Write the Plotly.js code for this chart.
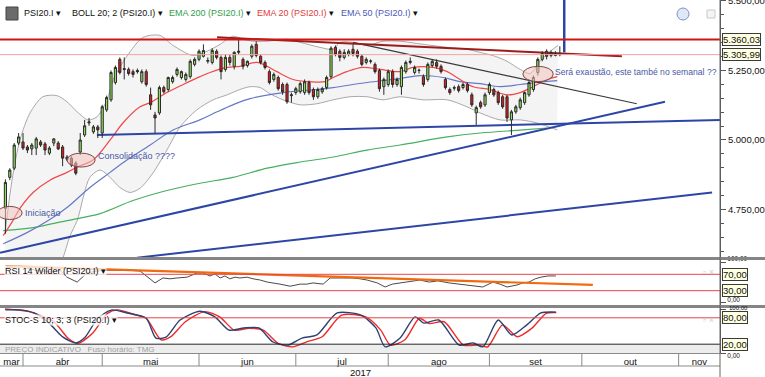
<!DOCTYPE html>
<html><head><meta charset="utf-8">
<script src="https://cdn.plot.ly/plotly-3.0.1.min.js"></script>
<style>html,body{margin:0;padding:0;background:#fff;}#chart{width:765px;height:377px;}</style>
</head><body><div id="chart"></div>
<script>
// ---------- PSI20.I daily candles (late Mar – Sep 2017) ----------
const open  = [4755,4866,4899,4989,4993,4975,4968,4971,4993,4986, 4953,4989,4989,4975,4931,4935,4917,4957,5018,5061,
  5029,5047,5025,5108,5144,5206,5289,5256,5253,5245, 5249,5209,5245,5162,5090,5097,5188,5181,5209,5235,
  5224,5217,5227,5271,5289,5300,5282,5278,5318,5296, 5253,5296,5264,5314,5289,5267,5300,5343,5300,5278,
  5245,5217,5224,5199,5199,5159,5170,5173,5170,5206, 5181,5155,5173,5188,5227,5332,5318,5296,5307,5325,
  5318,5300,5278,5282,5271,5249,5191,5199,5245,5199, 5191,5245,5278,5242,5249,5227,5217,5267,5278,5264,
  5217,5181,5188,5191,5188,5199,5162,5097,5134,5126, 5170,5181,5170,5155,5155,5072,5101,5116,5134,5162,
  5181,5242,5289,5318,5303,5303,5307];
const high  = [4859,4899,4989,5025,5025,4982,4989,5011,5000,4993, 4978,5007,4996,4982,4946,4942,4924,5025,5072,5079,
  5054,5054,5126,5159,5249,5267,5296,5296,5260,5253, 5256,5253,5253,5188,5101,5195,5195,5227,5231,5260,
  5249,5242,5289,5296,5325,5343,5296,5329,5325,5303, 5307,5307,5318,5361,5296,5285,5343,5354,5307,5285,
  5253,5242,5231,5206,5206,5170,5191,5209,5217,5213, 5188,5188,5191,5231,5336,5339,5325,5325,5325,5343,
  5325,5307,5296,5289,5278,5256,5224,5253,5253,5224, 5267,5285,5296,5267,5256,5235,5278,5289,5289,5271,
  5224,5188,5195,5199,5206,5206,5170,5123,5141,5170, 5206,5188,5177,5162,5162,5108,5126,5152,5173,5213,
  5231,5296,5318,5325,5321,5318,5336];
const low   = [4664,4856,4892,4982,4964,4953,4946,4946,4975,4946, 4946,4978,4964,4906,4924,4903,4874,4946,5011,5051,
  5022,5007,5007,5101,5137,5199,5235,5217,5231,5224, 5238,5202,5191,5108,5025,5090,5166,5173,5202,5227,
  5217,5209,5220,5264,5282,5296,5274,5271,5289,5217, 5245,5267,5253,5307,5253,5260,5292,5296,5271,5253,
  5199,5209,5177,5162,5130,5134,5162,5166,5162,5162, 5144,5148,5166,5181,5220,5300,5282,5289,5300,5300,
  5292,5264,5271,5274,5238,5173,5162,5191,5188,5191, 5162,5238,5271,5235,5238,5191,5209,5260,5256,5238,
  5181,5162,5177,5170,5181,5170,5119,5054,5112,5119, 5162,5155,5126,5112,5065,5018,5094,5108,5126,5155,
  5173,5231,5282,5289,5296,5300,5300];
const close = [4848,4892,4982,5011,4971,4964,4982,5004,4982,4964, 4971,5004,4968,4935,4939,4910,4881,5000,5051,5065,
  5047,5036,5119,5152,5242,5260,5242,5253,5238,5235, 5245,5245,5199,5126,5079,5188,5173,5224,5224,5253,
  5245,5235,5282,5289,5318,5321,5285,5321,5296,5245, 5296,5278,5314,5318,5264,5282,5336,5303,5278,5260,
  5206,5235,5184,5173,5137,5162,5184,5202,5209,5170, 5155,5181,5184,5224,5329,5307,5296,5314,5318,5310,
  5300,5271,5289,5283,5245,5184,5217,5245,5199,5217, 5260,5278,5282,5260,5250,5199,5271,5282,5264,5245,
  5188,5170,5186,5177,5199,5177,5126,5116,5119,5162, 5199,5162,5134,5119,5079,5101,5119,5144,5170,5206,
  5224,5289,5310,5300,5314,5310,5305.99];
// trading-session index (0 = first session of April)
const day = open.map((_, i) => i - 4);

// month axis
const monthNames = ['mar','abr','mai','jun','jul','ago','set','out','nov'];
const monthStart = [0, 18, 40, 62, 83, 106, 127, 149];   // session index where each month begins
const axisStart = -5.23, axisEnd = 158.4;

// Bollinger 20;2
const bollUpDay = [-4.1,-2.5,-0.7,1.6,4.5,7.7,10,12.3,14.8,16.8,19.1,20.5,23.6,27.3,31.1,34.1,38.6,41.8,44.8,47.7,50,52.3,55.5,60,63,67.5,70.5,72,75,78.2,81.8,85.7,90.9,96.4,100.9,103.9,107.3,110,113,115.2,117.5,119.8,121.6];
const bollUpVal = [4664,4856,5000,5097,5155,5159,5137,5101,5072,5083,5144,5217,5300,5368,5375,5339,5303,5318,5343,5372,5361,5354,5354,5361,5350,5332,5325,5350,5350,5339,5354,5354,5343,5332,5325,5314,5300,5282,5253,5238,5282,5318,5339];
const bollLoDay = [-4.1,2.7,9.1,10.7,12.3,15.2,17.5,19.8,22,24.3,26.6,29.5,32.7,35.7,39.5,43.2,46.4,49.3,51.6,53.9,56.1,59.1,63,66.8,70.5,74.3,78.2,81.8,85.7,90.9,96.4,100.9,103.9,108.4,113,116.8,121.4];
const bollLoVal = [3989,4314,4578,4657,4711,4866,4892,4866,4830,4812,4827,4881,4964,5047,5108,5144,5162,5181,5191,5188,5166,5144,5126,5130,5144,5155,5155,5144,5155,5144,5144,5119,5097,5072,5072,5061,5036];

// EMAs
const ema20Day = [-4.5,-2.3,-0.7,2.3,6.1,10,12.3,15.9,19.8,22.7,26.6,28.9,32.7,36.4,40.2,42.5,46.4,49.3,53.2,55.5,57.7,61.4,65.2,68.6,70.5,73.6,77.3,81.1,85.7,88.6,93.2,96.4,98.6,102.3,106.1,110,113,115.9,119.1,121.4];
const ema20Val = [4657,4711,4755,4812,4856,4884,4903,4928,5000,5061,5119,5134,5170,5199,5227,5242,5260,5264,5278,5264,5245,5217,5209,5209,5224,5245,5260,5253,5245,5260,5260,5245,5224,5191,5181,5162,5170,5191,5217,5227];
const ema50Day = [-4.5,0.9,6.1,10,15.2,19.8,23.6,28.9,34.1,40.2,44.1,47.7,51.6,59.1,66.8,70.5,78.2,85.7,90.2,95.5,99.3,103.9,108.4,113,116.8,121.4];
const ema50Val = [4628,4668,4715,4758,4830,4884,4928,4982,5036,5072,5101,5126,5148,5170,5181,5188,5206,5220,5231,5224,5209,5202,5191,5199,5206,5213];
const ema200Day = [-4.5,2.3,10,17.5,25,32.7,40.2,47.7,55.5,63,70.5,78.2,85.7,96.4,103.9,113.6,119.1];
const ema200Val = [4675,4686,4711,4736,4783,4819,4845,4866,4899,4921,4939,4964,4982,5011,5025,5036,5043];

// price levels: resistance and last price
const priceLevels = [5360.03, 5305.99];

// hand-drawn trend lines (session index / price)
const resistDownDay = [44.1, 136.1],  resistDownVal = [5368, 5300];
const channelDay    = [75, 139.5],    channelVal    = [5350, 5130];
const supportFlatDay= [16.8, 158.4],  supportFlatVal= [5018, 5072];
const supportUpDay  = [-5.2, 145.9],  supportUpVal  = [4596, 5137];
const supportLowDay = [25.9, 156.6],  supportLowVal = [4578, 4812];
const markerDay     = [123, 123],     markerVal     = [5314, 5650];

// RSI 14 Wilder
const rsiDay = [-4,-0.7,2.7,6.1,8.4,10,12.3,14.5,16.8,19.1,21.4,23.6,26.6,28.4,30,31.8,33.4,35,37.3,39.5,40.9,42.5,43.6,44.8,45.9,47,48.2,49.3,50.9,52.3,53.9,55.5,56.8,58.4,60.7,63,64.5,65.9,68.2,69.8,72,75,76.6,78.2,80.5,82.3,83.9,85.7,88,90.2,92.3,94.3,96.8,98.9,101.1,103,104.5,106.8,108.4,110,111.1,112.3,113.6,115,116.4,117.7,119.3,121.1];
const rsiVal = [85,90,80,76,80,63,51,73,78,80,80,80,78,63,49,61,59,61,63,73,73,66,71,61,66,59,63,61,63,59,56,51,49,46,41,46,46,49,46,61,61,61,59,56,49,39,46,49,54,56,51,54,49,46,44,41,39,51,46,39,41,44,49,51,59,63,66,66];
const rsiLevels = [70, 30];
const rsiTrendDay = [-4, 129.5], rsiTrendVal = [90, 44];

// Stochastic slow 10;3;3
const kDay = [-4,-0.7,2.5,5.9,9.1,12,14.1,17,20.2,23.6,28,30.2,32.5,35.7,40.2,43.6,46.8,50.2,53.6,56.8,60.2,63.4,66.8,71.4,76.8,80.2,82.3,85.7,89.1,91.1,94.5,99.1,102.3,104.5,108,111.1,114.5,117.7,121.1];
const kVal = [98,98,91,68,36,23,36,79,98,91,79,34,36,75,95,82,52,57,57,25,18,34,41,91,86,57,14,34,82,68,75,18,23,14,75,41,64,91,93];
const dDay = [-4.1,1.4,7,10.3,12.5,15.8,19.2,21.4,25.8,28,31.4,33.6,36.9,41.3,44.7,48,51.3,54.6,58,61.3,64.6,68,72.4,77.9,81.3,83.5,86.8,90.1,92.3,95.7,100.1,103.4,105.6,109,112.3,115.6,118.9,121.2];
const dVal = [100,94,71,33,22,45,90,98,86,79,30,37,71,94,82,52,56,52,22,14,26,37,86,82,52,18,30,79,67,71,18,18,14,64,37,56,90,92];
const stochLevels = [80, 20];

// ---------- helpers ----------
const PW = 720, PH = 353;
const py = p => 1 - p / PH;      // pixel row -> paper y
const pxp = p => p / PW;         // pixel col -> paper x
const fmtPT = v => {
  const [i, d] = v.toFixed(2).split('.');
  return i.replace(/\B(?=(\d{3})+(?!\d))/g, '.') + ',' + d;
};
const FONT = 'Liberation Sans, Arial, sans-serif';
const PRICE_RANGE = [4580.6, 5501.8];

const monthCenters = [(axisStart + monthStart[0]) / 2];
for (let i = 0; i < monthStart.length; i++) {
  const nxt = i + 1 < monthStart.length ? monthStart[i + 1] : axisEnd;
  monthCenters.push((monthStart[i] + nxt) / 2);
}

const line = (x, y, color, width, yaxis, extra) => Object.assign({
  type: 'scatter', mode: 'lines', x, y, xaxis: 'x', yaxis: yaxis || 'y',
  line: {color, width}, hoverinfo: 'skip'
}, extra || {});

const traces = [
  line(bollLoDay, bollLoVal, '#a9a9a9', 1, 'y', {line: {color: '#a9a9a9', width: 1, shape: 'spline', smoothing: 0.8}}),
  line(bollUpDay, bollUpVal, '#a9a9a9', 1, 'y', {fill: 'tonexty', fillcolor: '#f4f4f4', line: {color: '#a9a9a9', width: 1, shape: 'spline', smoothing: 0.8}}),
  line(ema200Day, ema200Val, '#45b05e', 1, 'y', {line: {color: '#45b05e', width: 1.2, shape: 'spline'}}),
  line(ema50Day, ema50Val, '#6678c6', 1, 'y', {line: {color: '#6678c6', width: 1.2, shape: 'spline'}}),
  line(ema20Day, ema20Val, '#f04848', 1, 'y', {line: {color: '#f04848', width: 1.2, shape: 'spline'}}),
  line(supportFlatDay, supportFlatVal, '#2d46a6', 2),
  line(supportUpDay, supportUpVal, '#2d46a6', 2),
  line(supportLowDay, supportLowVal, '#2d46a6', 2),
  line(channelDay, channelVal, '#3a3a3a', 1.2),
  line(resistDownDay, resistDownVal, '#9c1c1c', 2),
  line(markerDay, markerVal, '#2d46a6', 2.5),
  // candles on an overlaid price axis so they sit above the band fill and averages
  {
    type: 'candlestick', x: day, open, high, low, close, xaxis: 'x', yaxis: 'y4',
    increasing: {line: {color: '#2b2b2b', width: 1}, fillcolor: '#8fe35c'},
    decreasing: {line: {color: '#2b2b2b', width: 1}, fillcolor: '#e41b1b'},
    whiskerwidth: 0, hoverinfo: 'skip'
  },
  line(rsiDay, rsiVal, '#4a4a4a', 1, 'y2'),
  line(rsiTrendDay, rsiTrendVal, '#f26a10', 2.2, 'y2'),
  line(dDay, dVal, '#ef2a2a', 1.4, 'y3', {line: {color: '#ef2a2a', width: 1.4, shape: 'spline', smoothing: 0.7}}),
  line(kDay, kVal, '#2f4170', 1.4, 'y3', {line: {color: '#2f4170', width: 1.4, shape: 'spline', smoothing: 0.7}})
];

const shapes = [];
// date-axis header band
shapes.push({type: 'rect', xref: 'paper', yref: 'paper', x0: 0, x1: 1, y0: 0, y1: py(345), fillcolor: '#ededed', line: {width: 0}, layer: 'below'});
// price level lines
shapes.push({type: 'line', xref: 'paper', yref: 'y', x0: 0, x1: 1, y0: priceLevels[0], y1: priceLevels[0], line: {color: '#d01515', width: 2}});
shapes.push({type: 'line', xref: 'paper', yref: 'y', x0: 0, x1: 1, y0: priceLevels[1], y1: priceLevels[1], line: {color: '#f3a3a3', width: 1}});
// RSI levels
rsiLevels.forEach(v => shapes.push({type: 'line', xref: 'paper', yref: 'y2', x0: 0, x1: 1, y0: v, y1: v, line: {color: '#e54646', width: 1}}));
// Stoch levels
shapes.push({type: 'line', xref: 'paper', yref: 'y3', x0: 0, x1: 1, y0: stochLevels[0], y1: stochLevels[0], line: {color: '#e54646', width: 1}});
shapes.push({type: 'line', xref: 'paper', yref: 'y3', x0: 0, x1: 1, y0: stochLevels[1], y1: stochLevels[1], line: {color: '#222', width: 1}});
// panel separators
[258.5, 306.5].forEach(p => shapes.push({type: 'line', xref: 'paper', yref: 'paper', x0: 0, x1: 765 / PW, y0: py(p), y1: py(p), line: {color: '#858585', width: 3}}));
// month row borders
shapes.push({type: 'line', xref: 'paper', yref: 'paper', x0: 0, x1: 1, y0: py(366), y1: py(366), line: {color: '#8a8a8a', width: 1}});
monthStart.forEach(m => shapes.push({type: 'line', xref: 'x', yref: 'paper', x0: m, x1: m, y0: py(366), y1: 0, line: {color: '#8a8a8a', width: 1}}));
shapes.push({type: 'line', xref: 'paper', yref: 'paper', x0: 1, x1: 1, y0: py(377), y1: 1, line: {color: '#666', width: 1}});
// highlight ellipses
const ell = (x0, x1, y0, y1) => ({type: 'circle', xref: 'x', yref: 'y', x0, x1, y0, y1, fillcolor: 'rgba(243,196,190,0.55)', line: {color: '#7a4a4a', width: 1}});
shapes.push(ell(-5.8, -0.2, 4715, 4762));
shapes.push(ell(10, 16.4, 4903, 4953));
shapes.push(ell(113.6, 120.5, 5209, 5264));
// header icon + top-right icons
shapes.push({type: 'rect', xref: 'paper', yref: 'paper', x0: pxp(6), x1: pxp(18), y0: py(20), y1: py(7), fillcolor: '#6b6b6b', line: {color: '#444', width: 1}});
shapes.push({type: 'circle', xref: 'paper', yref: 'paper', x0: pxp(677), x1: pxp(689), y0: py(20), y1: py(8), fillcolor: '#dfe8f6', line: {color: '#7d92c2', width: 1}});
shapes.push({type: 'rect', xref: 'paper', yref: 'paper', x0: pxp(707), x1: pxp(715), y0: py(18), y1: py(10), fillcolor: '#f4f4f4', line: {color: '#c8c8c8', width: 1}});

const ann = [];
const txt = (x, y, text, opt) => ann.push(Object.assign({xref: 'paper', yref: 'paper', x: pxp(x), y: py(y), text, showarrow: false, xanchor: 'left', yanchor: 'middle', font: {family: FONT, size: 9, color: '#111'}}, opt || {}));
// header legend
txt(22, 13, 'PSI20.I ▾');
txt(70, 13, 'BOLL 20; 2 (PSI20.I) ▾');
txt(167, 13, '<span style="color:#2f9e48">EMA 200 (PSI20.I)</span> ▾');
txt(255, 13, '<span style="color:#e23a3a">EMA 20 (PSI20.I)</span> ▾');
txt(339, 13, '<span style="color:#4a5ab4">EMA 50 (PSI20.I)</span> ▾');
// sub-panel titles
txt(4, 271, 'RSI 14 Wilder (PSI20.I) ▾', {bgcolor: 'rgba(255,255,255,0.75)', borderpad: 0});
txt(4, 320, 'STOC-S 10; 3; 3 (PSI20.I) ▾', {bgcolor: 'rgba(255,255,255,0.75)', borderpad: 0});
txt(716, 272, '▫ ×', {xanchor: 'right', font: {family: FONT, size: 9, color: '#cfcfcf'}});
txt(716, 320, '▫ ×', {xanchor: 'right', font: {family: FONT, size: 9, color: '#cfcfcf'}});
// stoch top-of-scale label (squeezed under the panel separator, as in the source)
txt(727, 307.5, fmtPT(100), {font: {family: FONT, size: 6, color: '#111'}});
// footer
txt(3, 349.5, 'PREÇO INDICATIVO&nbsp;&nbsp;&nbsp;Fuso horário: TMG', {font: {family: FONT, size: 8, color: '#a0a0a0'}});
txt(360, 372, '2017', {xanchor: 'center', font: {family: FONT, size: 9.5, color: '#111'}});
// chart notes
const note = (x, y, text, opt) => ann.push(Object.assign({xref: 'x', yref: 'y', x, y, text, showarrow: false, xanchor: 'left', yanchor: 'middle', font: {family: FONT, size: 9, color: '#4a58a6'}}, opt || {}));
note(-0.1, 4740, 'Iniciação');
note(16.6, 4942, 'Consolidação ????');
ann.push({xref: 'paper', yref: 'y', x: 1, xshift: -1, y: 5245, text: 'Será exaustão, este també no semanal ??', showarrow: false,
  xanchor: 'right', yanchor: 'middle', font: {family: FONT, size: 8.6, color: '#4a58a6'}});
// axis value boxes
const box = (yref, v, text) => ann.push({xref: 'paper', yref, x: 1, y: v, xshift: 2, text, showarrow: false, xanchor: 'left', yanchor: 'middle', bgcolor: '#ffffe1', bordercolor: '#3a3a3a', borderwidth: 1, borderpad: 0, font: {family: FONT, size: 9.5, color: '#111'}});
priceLevels.forEach(v => box('y', v, fmtPT(v)));
rsiLevels.forEach(v => box('y2', v, fmtPT(v)));
stochLevels.forEach(v => box('y3', v, fmtPT(v)));

const mainTicks = [4750, 5000, 5250, 5500];
const minorTicks = [];
for (let v = 4600; v <= 5500; v += 50) if (!mainTicks.includes(v)) minorTicks.push(v);

const yBase = {side: 'right', showgrid: false, zeroline: false, showline: true, linecolor: '#555', linewidth: 1,
  ticks: 'outside', ticklen: 5, tickcolor: '#555', tickfont: {family: FONT, size: 9.5, color: '#111'}, fixedrange: true,
  ticklabeloverflow: 'allow'};

const layout = {
  width: 765, height: 377,
  margin: {l: 0, r: 45, t: 0, b: 24},
  paper_bgcolor: '#fff', plot_bgcolor: '#fff',
  showlegend: false,
  font: {family: FONT, size: 9.5, color: '#111'},
  xaxis: {domain: [0, 1], range: [axisStart, axisEnd], anchor: 'y3', showgrid: false, zeroline: false,
    showline: true, linecolor: '#8a8a8a', linewidth: 1, tickmode: 'array', tickvals: monthCenters, ticktext: monthNames,
    ticks: '', tickfont: {family: FONT, size: 9.5, color: '#111'}, rangeslider: {visible: false}, fixedrange: true},
  yaxis: Object.assign({}, yBase, {domain: [py(257), 1], range: PRICE_RANGE, tickmode: 'array',
    tickvals: mainTicks, ticktext: mainTicks.map(fmtPT),
    minor: {tickmode: 'array', tickvals: minorTicks, ticks: 'outside', ticklen: 3, tickcolor: '#555'}}),
  yaxis4: {overlaying: 'y', anchor: 'x', side: 'right', range: PRICE_RANGE, visible: false, showgrid: false, zeroline: false, fixedrange: true},
  yaxis2: Object.assign({}, yBase, {domain: [py(305), py(260)], range: [-4.9, 104.9], tickmode: 'array',
    tickvals: [0, 100], ticktext: [fmtPT(0), fmtPT(100)], ticklabelshift: -3, tickfont: {family: FONT, size: 6.5, color: '#111'}}),
  yaxis3: Object.assign({}, yBase, {domain: [0, py(308)], range: [0, 102.3], tickmode: 'array',
    tickvals: [0, 100], ticktext: [fmtPT(0), ''], ticklabelshift: 3, tickfont: {family: FONT, size: 6.5, color: '#111'}}),
  shapes, annotations: ann
};

Plotly.newPlot('chart', traces, layout, {staticPlot: true, displayModeBar: false});
</script></body></html>
